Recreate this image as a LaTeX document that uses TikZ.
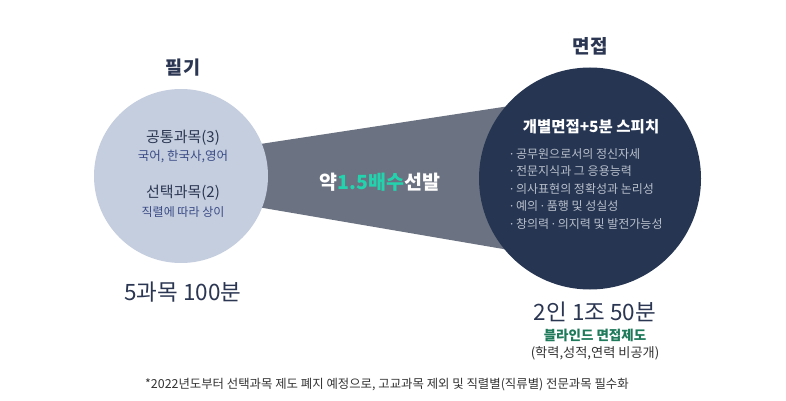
\documentclass[tikz,border=0pt]{standalone}
\usepackage{fontspec}
\newfontfamily\kr{Noto Sans CJK KR}
\newfontfamily\lat{Noto Sans}
\newcommand{\mdot}{{\lat ·}}
\definecolor{lightc}{HTML}{C5CEDF}
\definecolor{bandc}{HTML}{6B7281}
\definecolor{darkc}{HTML}{253552}
\definecolor{titlec}{HTML}{2B3652}
\definecolor{subc}{HTML}{3A4B85}
\definecolor{tealc}{HTML}{22D3AE}
\definecolor{greenc}{HTML}{1E7A5A}
\definecolor{bulc}{HTML}{BAC0CC}
\definecolor{footc}{HTML}{333333}
\tikzset{
  txt/.style={inner sep=0pt, anchor=center, font=\kr},
  bul/.style={inner sep=0pt, anchor=west, font=\kr\fontsize{12}{14}\selectfont, text=bulc},
}
\begin{document}
\begin{tikzpicture}[x=1pt,y=-1pt]
\useasboundingbox (0,0) rectangle (786,401);
\fill[white] (0,0) rectangle (786,401);
% band
\fill[bandc] (240,147.1) -- (560,98.3) -- (560,258.7) -- (240,204) -- cycle;
% circles
\node[circle, fill=lightc, minimum size=174pt, inner sep=0pt] (left) at (181,176) {};
\node[circle, fill=darkc, minimum size=222pt, inner sep=0pt] (right) at (590,178.5) {};
% left texts
\node[txt, font=\kr\bfseries\fontsize{18.5}{20}\selectfont, text=titlec] (pilgi) at (183,68) {필기};
\node[txt, font=\kr\fontsize{15}{17}\selectfont, text=titlec] (common) at (183,138) {공통과목(3)};
\node[txt, font=\kr\fontsize{12.5}{14}\selectfont, text=subc] (commonsub) at (183,157) {국어, 한국사,영어};
\node[txt, font=\kr\fontsize{15}{17}\selectfont, text=titlec] (select) at (183,193) {선택과목(2)};
\node[txt, font=\kr\fontsize{12}{14}\selectfont, text=subc] (selectsub) at (183,212) {직렬에 따라 상이};
\node[txt, font=\kr\fontsize{22.5}{24}\selectfont, text=titlec] (leftsum) at (183,292) {5과목 100분};
% band text
\node[txt, font=\kr\bfseries\fontsize{19.5}{21}\selectfont, text=white] (band) at (380,182) {약\textcolor{tealc}{1.5배수}선발};
% right texts
\node[txt, font=\kr\bfseries\fontsize{19}{21}\selectfont, text=titlec] (myeon) at (590,46) {면접};
\node[txt, font=\kr\bfseries\fontsize{15.5}{17}\selectfont, text=white] (rtitle) at (591,127) {개별면접+5분 스피치};
\node[bul] (b1) at (510,154) {\mdot\ 공무원으로서의 정신자세};
\node[bul] (b2) at (510,171.5) {\mdot\ 전문지식과 그 응용능력};
\node[bul] (b3) at (510,189) {\mdot\ 의사표현의 정확성과 논리성};
\node[bul] (b4) at (510,206.5) {\mdot\ 예의 \mdot\ 품행 및 성실성};
\node[bul] (b5) at (510,224) {\mdot\ 창의력 \mdot\ 의지력 및 발전가능성};
\node[txt, font=\kr\fontsize{22.5}{24}\selectfont, text=titlec] (rightsum) at (595,312) {2인 1조 50분};
\node[txt, font=\kr\bfseries\fontsize{13.5}{15}\selectfont, text=greenc] (blind) at (595,335) {블라인드 면접제도};
\node[txt, font=\kr\fontsize{13.2}{15}\selectfont, text=footc] (blindsub) at (595,353) {(학력,성적,연력 비공개)};
% footer
\node[txt, font=\kr\fontsize{12.4}{14}\selectfont, text=footc] (foot) at (387,385) {*2022년도부터 선택과목 제도 폐지 예정으로, 고교과목 제외 및 직렬별(직류별) 전문과목 필수화};
\end{tikzpicture}
\end{document}
